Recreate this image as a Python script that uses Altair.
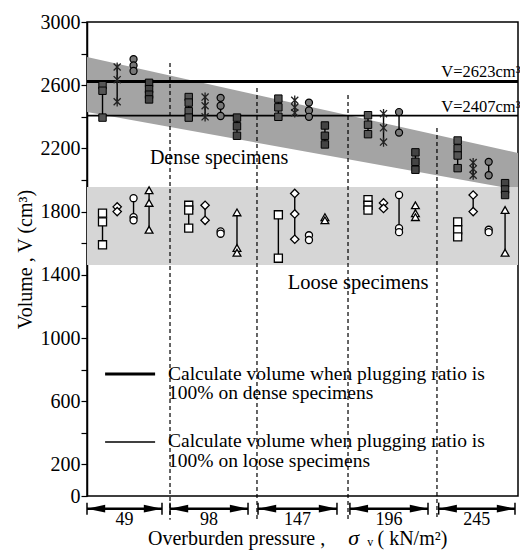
import altair as alt
import pandas as pd

FONT = "Liberation Serif"

# ---- data ----
pressures = ["49", "98", "147", "196", "245"]
# horizontal position of the 4 specimen columns inside each pressure group (group index units)
col_x = [
    [0.18, 0.35, 0.54, 0.72],
    [1.18, 1.37, 1.55, 1.74],
    [2.22, 2.41, 2.575, 2.76],
    [3.26, 3.44, 3.62, 3.81],
    [4.30, 4.48, 4.66, 4.85],
]
# dense specimens: volumes (cm3) per group, per column
dense_vals = [
    [[2600, 2565, 2395], [2715, 2635, 2495], [2765, 2725, 2690], [2615, 2575, 2540, 2510]],
    [[2525, 2490, 2435, 2395], [2525, 2470, 2400], [2520, 2470, 2405], [2395, 2340, 2280]],
    [[2515, 2460, 2400], [2505, 2460, 2425], [2490, 2440, 2400], [2345, 2280, 2225]],
    [[2410, 2350, 2290], [2420, 2330, 2240], [2430, 2300], [2175, 2115, 2065]],
    [[2250, 2200, 2155, 2075], [2110, 2070, 2030], [2115, 2030], [1980, 1940, 1905]],
]
# loose specimens
loose_vals = [
    [[1790, 1735, 1590], [1830, 1800], [1885, 1765, 1745], [1935, 1855, 1685]],
    [[1840, 1810, 1695], [1840, 1745], [1675, 1660], [1795, 1570, 1540]],
    [[1780, 1505], [1915, 1785, 1625], [1650, 1620], [1765, 1745]],
    [[1875, 1840, 1810], [1855, 1820], [1905, 1695, 1670], [1840, 1790, 1765]],
    [[1735, 1685, 1640], [1905, 1800], [1685, 1670], [1810, 1540]],
]
v_dense_line = 2623
v_loose_line = 2407
# shaded bands
dense_band_x = [0.0, 5.0]
dense_band_top = [2778, 2171]
dense_band_bot = [2430, 1937]
loose_band = (1462, 1956)
# dashed separators (x, top value)
sep_x = [0.963, 1.972, 3.028, 4.060]
sep_top = [2741, 2582, 2538, 2329]
sep_bottom = -150
# pressure arrows (x start, x end)
arrow_x1 = [0.0, 0.963, 1.984, 3.05, 4.08]
arrow_x2 = [0.87, 1.868, 2.90, 3.956, 4.965]
arrow_y = -80
arrow_label_y = -97

xs = alt.Scale(domain=[0, 5], nice=False, zero=False)
ys = alt.Scale(domain=[0, 3000], nice=False, zero=False)
yaxis = alt.Axis(
    title="Volume , V (cm³)", values=list(range(0, 3001, 200)), format="d",
    labelExpr="datum.value == 0 || (datum.value - 200) % 400 == 0 ? datum.label : ''",
    grid=False, tickSize=6, tickColor="black", tickWidth=1.2, domainColor="black", domainWidth=1.5,
    labelFont=FONT, labelFontSize=20, labelColor="black", labelPadding=1,
    titleFont=FONT, titleFontSize=20, titleFontWeight="normal", titleColor="black", titlePadding=5,
)


def X(f):
    return alt.X(f, type="quantitative", scale=xs, axis=None)


def Y(f):
    return alt.Y(f, type="quantitative", scale=ys, axis=yaxis)


def Y2(f):
    return alt.Y2(f)


layers = []

# bands
band_df = pd.DataFrame({"x": dense_band_x, "top": dense_band_top, "bot": dense_band_bot})
layers.append(alt.Chart(band_df).mark_area(color="#a4a4a4").encode(x=X("x"), y=Y("top"), y2=Y2("bot")))
lb = pd.DataFrame({"x": [0, 5], "top": [loose_band[1]] * 2, "bot": [loose_band[0]] * 2})
layers.append(alt.Chart(lb).mark_area(color="#d6d6d6").encode(x=X("x"), y=Y("top"), y2=Y2("bot")))

# dashed separators
sep_df = pd.DataFrame({"x": sep_x, "top": sep_top, "bot": [sep_bottom] * 4})
layers.append(alt.Chart(sep_df).mark_rule(color="black", strokeDash=[4, 3], strokeWidth=1.2)
              .encode(x=X("x"), y=Y("top"), y2=Y2("bot")))

# 100% plugging lines
hl = pd.DataFrame({"x": [0], "x2": [5], "v": [v_dense_line]})
layers.append(alt.Chart(hl).mark_rule(color="black", strokeWidth=3).encode(x=X("x"), x2=alt.X2("x2"), y=Y("v")))
hl2 = pd.DataFrame({"x": [0], "x2": [5], "v": [v_loose_line]})
layers.append(alt.Chart(hl2).mark_rule(color="black", strokeWidth=1.8).encode(x=X("x"), x2=alt.X2("x2"), y=Y("v")))

# data points
rows, rng = [], []
for setname, vals in (("dense", dense_vals), ("loose", loose_vals)):
    for g in range(5):
        for c in range(4):
            vs = vals[g][c]
            for v in vs:
                rows.append({"set": setname, "col": c, "x": col_x[g][c], "v": v})
            rng.append({"set": setname, "col": c, "x": col_x[g][c], "lo": min(vs), "hi": max(vs)})
pts = pd.DataFrame(rows)
rdf = pd.DataFrame(rng)
layers.append(alt.Chart(rdf).mark_rule(color="black", strokeWidth=1.4).encode(x=X("x"), y=Y("lo"), y2=Y2("hi")))

xpath = "M-1,-1L1,1M-1,1L1,-1M0,-1.3L0,1.3"
styles = {
    ("dense", 0): dict(shape="square", filled=True, fill="#555555", stroke="black", strokeWidth=1, size=55),
    ("dense", 1): dict(shape=xpath, filled=False, stroke="#222222", strokeWidth=1.3, size=50),
    ("dense", 2): dict(shape="circle", filled=True, fill="#777777", stroke="black", strokeWidth=1.2, size=50),
    ("dense", 3): dict(shape="square", filled=True, fill="#444444", stroke="black", strokeWidth=1, size=55),
    ("loose", 0): dict(shape="square", filled=True, fill="white", stroke="black", strokeWidth=1.3, size=65),
    ("loose", 1): dict(shape="diamond", filled=True, fill="white", stroke="black", strokeWidth=1.3, size=70),
    ("loose", 2): dict(shape="circle", filled=True, fill="white", stroke="black", strokeWidth=1.3, size=50),
    ("loose", 3): dict(shape="triangle-up", filled=True, fill="white", stroke="black", strokeWidth=1.3, size=60),
}
for (s, c), st in styles.items():
    d = pts[(pts["set"] == s) & (pts["col"] == c)]
    layers.append(alt.Chart(d).mark_point(opacity=1, **st).encode(x=X("x"), y=Y("v")))

# annotations
def txt(df, **kw):
    base = dict(font=FONT, color="black", align="left", baseline="middle")
    base.update(kw)
    return alt.Chart(df).mark_text(**base).encode(x=X("x"), y=Y("y"), text="t:N")

layers.append(txt(pd.DataFrame({"x": [4.11, 4.11], "y": [2684, 2462], "t": ["V=2623cm³", "V=2407cm³"]}), fontSize=16.5))
layers.append(txt(pd.DataFrame({"x": [0.73], "y": [2139], "t": ["Dense specimens"]}), fontSize=20))
layers.append(txt(pd.DataFrame({"x": [2.33], "y": [1348], "t": ["Loose specimens"]}), fontSize=20.5))

# in-plot legend
lg1 = pd.DataFrame({"x": [0.21], "x2": [0.79], "v": [772]})
layers.append(alt.Chart(lg1).mark_rule(color="black", strokeWidth=3).encode(x=X("x"), x2=alt.X2("x2"), y=Y("v")))
lg2 = pd.DataFrame({"x": [0.21], "x2": [0.79], "v": [342]})
layers.append(alt.Chart(lg2).mark_rule(color="black", strokeWidth=1.5).encode(x=X("x"), x2=alt.X2("x2"), y=Y("v")))
layers.append(txt(pd.DataFrame({
    "x": [0.94] * 4, "y": [775, 650, 345, 220],
    "t": ["Calculate volume when plugging ratio is", "100% on dense specimens",
          "Calculate volume when plugging ratio is", "100% on loose specimens"]}), fontSize=19.5))

# pressure arrows under the axis
adf = pd.DataFrame({"x": arrow_x1, "x2": arrow_x2, "y": [arrow_y] * 5, "t": pressures,
                    "xm": [(a + b) / 2 for a, b in zip(arrow_x1, arrow_x2)]})
layers.append(alt.Chart(adf).mark_rule(color="black", strokeWidth=2.5).encode(x=X("x"), x2=alt.X2("x2"), y=Y("y")))
layers.append(alt.Chart(adf).mark_point(shape="M0,0L2,-0.42L2,0.42Z", filled=True, fill="black", size=330, opacity=1)
              .encode(x=X("x"), y=Y("y")))
layers.append(alt.Chart(adf).mark_point(shape="M0,0L-2,-0.42L-2,0.42Z", filled=True, fill="black", size=330, opacity=1)
              .encode(x=X("x2"), y=Y("y")))
ends = pd.DataFrame({"x": arrow_x1 + arrow_x2, "lo": [arrow_y - 38] * 10, "hi": [arrow_y + 38] * 10})
layers.append(alt.Chart(ends).mark_rule(color="black", strokeWidth=1.5).encode(x=X("x"), y=Y("lo"), y2=Y2("hi")))
layers.append(alt.Chart(adf.assign(y=arrow_label_y)).mark_text(font=FONT, fontSize=18, color="black", baseline="top")
              .encode(x=X("xm"), y=Y("y"), text="t:N"))

# x-axis title pieces
layers.append(txt(pd.DataFrame({"x": [0.708], "y": [-274], "t": ["Overburden pressure ,"]}), fontSize=20))
layers.append(txt(pd.DataFrame({"x": [3.03], "y": [-264], "t": ["σ"]}), fontSize=22, fontStyle="italic"))
layers.append(txt(pd.DataFrame({"x": [3.25], "y": [-292], "t": ["v"]}), fontSize=12))
layers.append(txt(pd.DataFrame({"x": [3.37], "y": [-274], "t": ["( kN/m²)"]}), fontSize=20))

chart = alt.layer(*layers).properties(
    width=431, height=474,
    padding={"left": 87, "top": 22, "right": 2, "bottom": 54},
    autosize=alt.AutoSizeParams(type="none"),
    background="white",
).configure_view(stroke="black", strokeWidth=1.5).configure_text(font=FONT).configure_axis(labelFont=FONT, titleFont=FONT)

chart.save("out.html", embed_options={"renderer": "svg", "actions": False})
